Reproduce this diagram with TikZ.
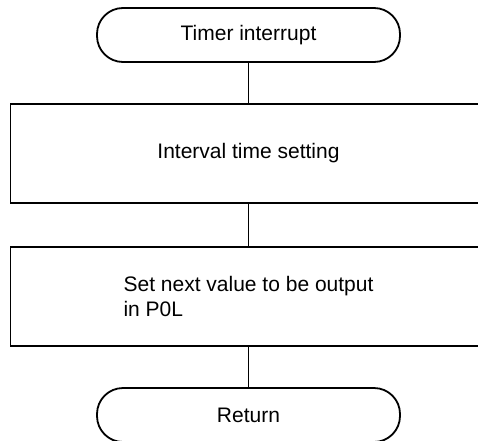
\documentclass[tikz,border=0pt]{standalone}
\usepackage{fontspec}
\setmainfont{Liberation Sans}
\usetikzlibrary{positioning}

\begin{document}
\begin{tikzpicture}[
  x=1pt, y=1pt,
  terminal/.style={draw, line width=1.8pt, rounded corners=26pt, outer sep=0pt,
    minimum width=303pt, minimum height=54pt, align=center},
  process/.style={draw, line width=1.8pt, outer sep=0pt,
    minimum width=476pt, minimum height=99pt, align=left},
  flow/.style={line width=0.9pt}
]
  \useasboundingbox (0,0) rectangle (478,440);
  \clip (0,0) rectangle (478,440);
  \fontsize{21}{25}\selectfont

  \node[terminal] (start) at (248.5,405) {Timer interrupt};
  \node[process, below=42pt of start] (interval) {Interval time setting};
  \node[process, below=44pt of interval] (output) {Set next value to be output\\in P0L};
  \node[terminal, below=42pt of output] (return) {Return};

  \draw[flow] (start) -- (interval);
  \draw[flow] (interval) -- (output);
  \draw[flow] (output) -- (return);
\end{tikzpicture}
\end{document}
